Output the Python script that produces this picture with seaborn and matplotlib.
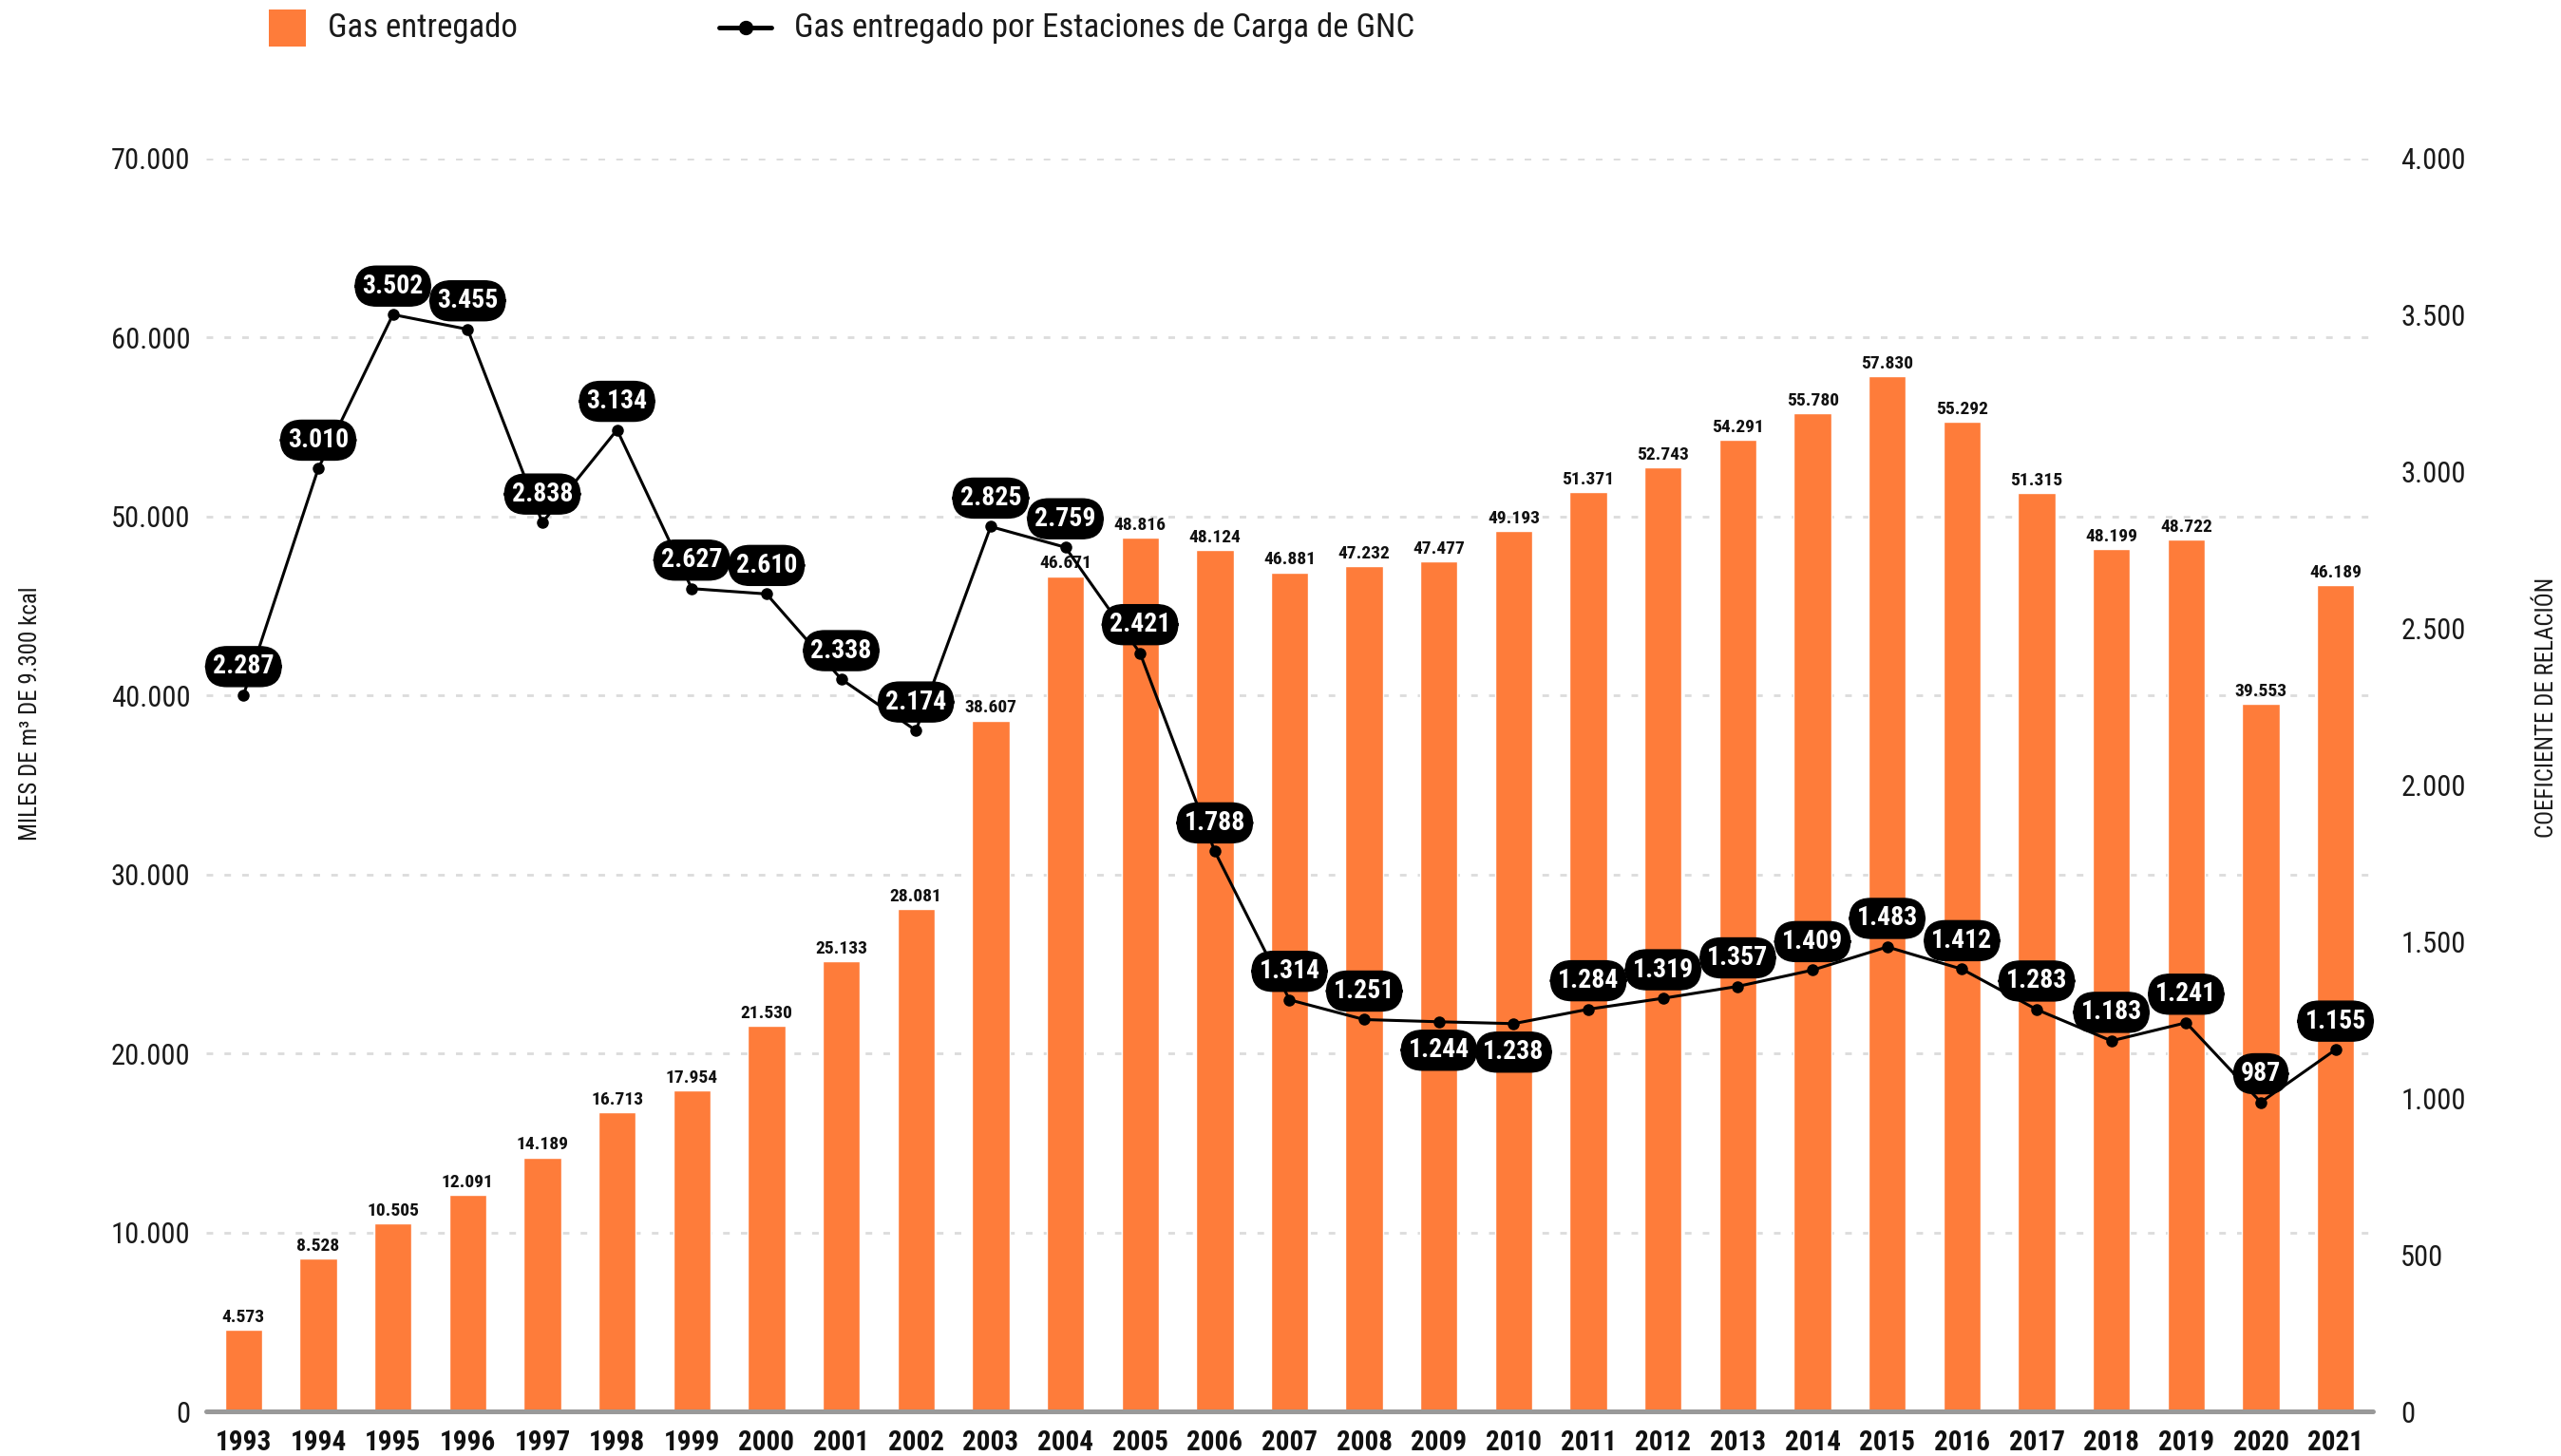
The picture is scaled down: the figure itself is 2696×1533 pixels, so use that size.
import numpy as np
import pandas as pd
import matplotlib
matplotlib.use("Agg")
import matplotlib.pyplot as plt
from matplotlib import font_manager as fm
from matplotlib.patches import Rectangle
from matplotlib.lines import Line2D
from matplotlib.ticker import FuncFormatter
import seaborn as sns

# ---------------- data ----------------
years = [str(y) for y in range(1993, 2022)]
gas_entregado = [4573, 8528, 10505, 12091, 14189, 16713, 17954, 21530, 25133, 28081,
                 38607, 46671, 48816, 48124, 46881, 47232, 47477, 49193, 51371, 52743,
                 54291, 55780, 57830, 55292, 51315, 48199, 48722, 39553, 46189]
gas_gnc = [2287, 3010, 3502, 3455, 2838, 3134, 2627, 2610, 2338, 2174,
           2825, 2759, 2421, 1788, 1314, 1251, 1244, 1238, 1284, 1319,
           1357, 1409, 1483, 1412, 1283, 1183, 1241, 987, 1155]
left_ticks = [0, 10000, 20000, 30000, 40000, 50000, 60000, 70000]
right_ticks = [0, 500, 1000, 1500, 2000, 2500, 3000, 3500, 4000]
legend_labels = ["Gas entregado", "Gas entregado por Estaciones de Carga de GNC"]
ylabel_left = "MILES DE m³ DE 9.300 kcal"
ylabel_right = "COEFICIENTE DE RELACIÓN"
below_label_years = ["2009", "2010"]

# ---------------- style ----------------
sns.set_theme(style="white")
names = {f.name for f in fm.fontManager.ttflist}
FONT = "Roboto"
for cand in ["Roboto Condensed", "Liberation Sans Narrow", "Roboto"]:
    if cand in names:
        FONT = cand
        break
plt.rcParams["font.family"] = [FONT, "DejaVu Sans"]
plt.rcParams["font.stretch"] = "condensed"
plt.rcParams["lines.scale_dashes"] = False

ORANGE = "#FE7C3A"
TXT = "#1a1a1a"

def fmt(v):
    return f"{int(round(v)):,}".replace(",", ".")

W, H = 2696, 1533
fig = plt.figure(figsize=(W / 100, H / 100), dpi=100)
L, R, T, B = 217, 2498, 167, 1486
ax = fig.add_axes([L / W, 1 - B / H, (R - L) / W, (B - T) / H])

df = pd.DataFrame({"year": years, "gas": gas_entregado, "gnc": gas_gnc})

sns.barplot(data=df, x="year", y="gas", color=ORANGE, width=0.5, ax=ax,
            saturation=1, zorder=2)
ax.set_xlim(-0.5, len(years) - 0.5)
ax.set_ylim(0, 70000)
ax.set_yticks(left_ticks)
ax.yaxis.set_major_formatter(FuncFormatter(lambda v, p: fmt(v)))
ax.set_xlabel("")
ax.set_ylabel("")
ax.set_axisbelow(True)
ax.grid(axis="y", color="#dcdcdc", linewidth=2.0, linestyle=(0, (5, 8.5)))
ax.grid(axis="x", visible=False)
for s in ax.spines.values():
    s.set_visible(False)
ax.tick_params(axis="y", length=0, pad=12, labelsize=22, labelcolor=TXT)
ax.tick_params(axis="x", length=0, pad=14, labelsize=21, labelcolor="#111111")
for lab in ax.get_xticklabels():
    lab.set_fontweight("bold")
ax.axhline(0, color="#999999", linewidth=3.6, zorder=3, clip_on=False)

for i, v in enumerate(gas_entregado):
    ax.annotate(fmt(v), (i, v), xytext=(0, 3), textcoords="offset points",
                ha="center", va="bottom", fontsize=14, fontweight="bold",
                color="#111111", zorder=4)

ax2 = ax.twinx()
x_pos = np.arange(len(years))
sns.lineplot(x=x_pos, y=gas_gnc, ax=ax2, color="black", linewidth=2.2,
             marker="o", markersize=9, markeredgewidth=0, zorder=5)
ax2.set_ylim(0, 4000)
ax2.set_yticks(right_ticks)
ax2.yaxis.set_major_formatter(FuncFormatter(lambda v, p: fmt(v)))
ax2.set_xlim(-0.5, len(years) - 0.5)
ax2.grid(False)
for s in ax2.spines.values():
    s.set_visible(False)
ax2.tick_params(axis="y", length=0, pad=21, labelsize=22, labelcolor=TXT)
ax2.set_ylabel("")

for i, (y, v) in enumerate(zip(years, gas_gnc)):
    dy = -21.6 if y in below_label_years else 21.6
    ax2.annotate(fmt(v), (i, v), xytext=(0, dy), textcoords="offset points",
                 ha="center", va="center", fontsize=20, fontweight="bold",
                 color="white", zorder=6,
                 bbox=dict(boxstyle="round,pad=0.27,rounding_size=0.8",
                           fc="black", ec="black", lw=1))

# axis titles
fig.text(32 / W, 1 - 751 / H, ylabel_left, rotation=90, ha="center", va="center",
         fontsize=18, color=TXT)
fig.text(2681 / W, 1 - 745 / H, ylabel_right, rotation=90, ha="center", va="center",
         fontsize=18, color=TXT)

# legend (top)
fig.patches.append(Rectangle((283 / W, 1 - 49 / H), 39 / W, 39 / H,
                             transform=fig.transFigure, fc=ORANGE, ec="none"))
fig.text(345 / W, 1 - 29 / H, legend_labels[0], ha="left", va="center",
         fontsize=25, color=TXT)
fig.lines.append(Line2D([757 / W, 812 / W], [1 - 29 / H, 1 - 29 / H],
                        transform=fig.transFigure, color="black", linewidth=3.5,
                        solid_capstyle="round"))
fig.lines.append(Line2D([784.5 / W], [1 - 29 / H], transform=fig.transFigure,
                        color="black", marker="o", markersize=10, linestyle="none"))
fig.text(836 / W, 1 - 29 / H, legend_labels[1], ha="left", va="center",
         fontsize=25, color=TXT)

fig.savefig("out.png", dpi=100)
